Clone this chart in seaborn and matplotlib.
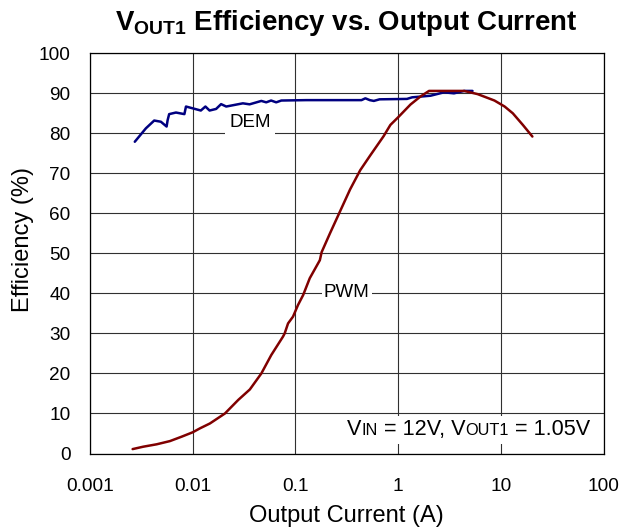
import numpy as np
import pandas as pd
import matplotlib
matplotlib.use("Agg")
import matplotlib.pyplot as plt
import seaborn as sns
from matplotlib.offsetbox import TextArea, HPacker, AnnotationBbox

# ---- data ----
dem_x = [0.00273, 0.0035, 0.00422, 0.0049, 0.00557, 0.0057, 0.0059, 0.00687, 0.0083, 0.0086,
         0.01, 0.012, 0.0133, 0.0146, 0.0169, 0.0189, 0.0212, 0.0308, 0.0358, 0.0466,
         0.052, 0.058, 0.065, 0.073, 0.128, 0.44, 0.48, 0.53, 0.58, 0.66,
         1.22, 1.37, 2.07, 2.8, 3.5, 4.4, 5.3]
dem_y = [77.9, 81.25, 83.2, 82.9, 81.7, 83.3, 84.8, 85.2, 84.8, 86.7,
         86.25, 85.7, 86.7, 85.7, 86.1, 87.3, 86.7, 87.5, 87.25, 88.1,
         87.75, 88.2, 87.75, 88.2, 88.3, 88.3, 88.75, 88.3, 88.1, 88.5,
         88.6, 89.0, 89.4, 90.25, 90.0, 90.6, 90.6]

pwm_x = [0.0026, 0.0033, 0.00446, 0.006, 0.0078, 0.01, 0.0118, 0.0147, 0.0206, 0.0278,
         0.036, 0.0466, 0.0582, 0.0757, 0.0786, 0.0848, 0.0948, 0.106, 0.119, 0.138,
         0.173, 0.18, 0.217, 0.272, 0.341, 0.428, 0.536, 0.723, 0.841, 1.0,
         1.32, 1.65, 2.0, 3.0, 4.4, 5.95, 8.67, 10.9, 13.1, 16.4, 20.3]
pwm_y = [1.1, 1.7, 2.3, 3.1, 4.2, 5.3, 6.3, 7.5, 10.0, 13.4,
         16.0, 20.0, 24.6, 29.2, 30.0, 32.5, 34.2, 37.1, 39.6, 43.8,
         48.3, 50.3, 55.0, 60.5, 66.0, 70.8, 74.5, 79.3, 82.1, 84.0,
         87.2, 89.2, 90.6, 90.6, 90.6, 89.8, 88.2, 86.7, 85.0, 82.1, 79.2]

x_ticks = [0.001, 0.01, 0.1, 1, 10, 100]
x_tick_labels = ["0.001", "0.01", "0.1", "1", "10", "100"]
y_ticks = [0, 10, 20, 30, 40, 50, 60, 70, 80, 90, 100]

# ---- style ----
sns.set_theme(style="white")
plt.rcParams['font.family'] = ['Liberation Sans', 'DejaVu Sans']
plt.rcParams['mathtext.fontset'] = 'custom'
plt.rcParams['mathtext.rm'] = 'Liberation Sans'
plt.rcParams['mathtext.bf'] = 'Liberation Sans:bold'
plt.rcParams['mathtext.it'] = 'Liberation Sans:italic'
plt.rcParams['text.color'] = 'black'

fig = plt.figure(figsize=(6.22, 5.30), dpi=100)
ax = fig.add_axes([90/622, 1 - 453.5/530, (603.5-90)/622, (453.5-53.3)/530])

df_dem = pd.DataFrame({"x": dem_x, "y": dem_y})
df_pwm = pd.DataFrame({"x": pwm_x, "y": pwm_y})
sns.lineplot(data=df_dem, x="x", y="y", ax=ax, color="#000080", lw=1.8,
             sort=False, estimator=None, zorder=4)
sns.lineplot(data=df_pwm, x="x", y="y", ax=ax, color="#800000", lw=1.8,
             sort=False, estimator=None, zorder=5)

ax.set_xscale("log")
ax.set_xlim(0.001, 100)
ax.set_ylim(0, 100)
ax.set_xticks(x_ticks)
ax.set_xticklabels(x_tick_labels)
ax.set_yticks(y_ticks)
ax.xaxis.set_minor_locator(matplotlib.ticker.NullLocator())
ax.grid(True, which="major", color="#303030", lw=0.8)
ax.set_axisbelow(True)
for s in ax.spines.values():
    s.set_color("black")
    s.set_linewidth(0.9)
ax.tick_params(axis="both", which="major", direction="in", length=4, width=0.8,
               color="black", labelsize=13.7, labelcolor="black")
ax.tick_params(axis="x", pad=17.5)
ax.tick_params(axis="y", pad=14)

ax.set_xlabel("Output Current (A)", fontsize=17, color="black", labelpad=7)
ax.set_ylabel("Efficiency (%)", fontsize=17, color="black")
ax.yaxis.set_label_coords(-0.11, 0.534)

ax.set_title(r"$\mathbf{V_{OUT1}}$ Efficiency vs. Output Current", fontsize=19.9,
             fontweight="bold", color="black", pad=17)

ax.text(0.0362, 82.75, "DEM", fontsize=13.5, ha="center", va="center", zorder=3,
        color="black", bbox=dict(facecolor="white", edgecolor="none", pad=3))
ax.text(0.316, 40.2, "PWM", fontsize=13.5, ha="center", va="center", zorder=3,
        color="black", bbox=dict(facecolor="white", edgecolor="none", pad=1.5))

big = dict(size=15.6, color="black", family="Liberation Sans")
small = dict(size=11.8, color="black", family="Liberation Sans")
parts = [TextArea("V", textprops=big), TextArea("IN", textprops=small),
         TextArea(" = 12V, V", textprops=big), TextArea("OUT1", textprops=small),
         TextArea(" = 1.05V", textprops=big)]
box = HPacker(children=parts, align="baseline", pad=0, sep=0)
ab = AnnotationBbox(box, (74, 5.9), xycoords="data", box_alignment=(1, 0.5),
                    frameon=True, pad=0.25,
                    bboxprops=dict(facecolor="white", edgecolor="none"), zorder=3)
ax.add_artist(ab)

fig.savefig("out.png", dpi=100)
